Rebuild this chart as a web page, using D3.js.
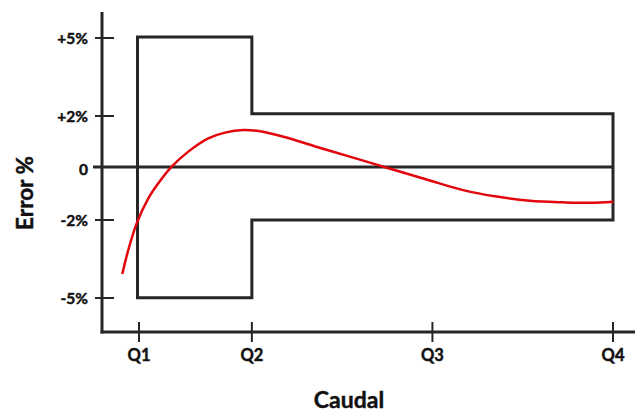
<!DOCTYPE html>
<html>
<head>
<meta charset="utf-8">
<script src="https://cdn.jsdelivr.net/npm/d3@7"></script>
<style>
  html, body { margin: 0; padding: 0; background: #fff; }
  svg { display: block; font-family: Lato, "Open Sans", sans-serif; }
</style>
</head>
<body>
<svg id="chart" width="635" height="413"></svg>
<script>
// ---- data ----
const qLabels = ["Q1", "Q2", "Q3", "Q4"];
const qPositions = [0, 25, 65, 105];          // relative flow positions
const yTickValues = [5, 2, 0, -2, -5];
const yTickLabels = ["+5%", "+2%", "0", "-2%", "-5%"];
// tolerance envelope: x breakpoints, upper and lower limits (%)
const envX = [0, 25, 105];
const envUpper = [5.04, 2.09];
const envLower = [-4.99, -2.0];
// measured error curve
const curveX = [-3.7, -2.37, -0.51, 2.06, 4.28, 7.24, 10.92, 15.35, 19.05, 23.1, 26.8, 32.0, 40.0, 48.0, 54.9, 63.7, 71.8, 79.2, 86.6, 94.0, 99.9, 105.1];
const curveY = [-4.08, -3.15, -2.13, -1.17, -0.59, 0.05, 0.63, 1.14, 1.36, 1.46, 1.41, 1.20, 0.78, 0.37, 0.01, -0.44, -0.85, -1.10, -1.26, -1.32, -1.34, -1.30];

// ---- scales ----
const x = d3.scaleLinear().domain([0, 105]).range([139, 613]);
const y = d3.scaleLinear().domain([0, 5]).range([168, 38]);

const svg = d3.select("#chart");
const ink = "#262626";
const txt = "#111";

function label(sel) {
  return sel.attr("font-weight", 700).attr("fill", txt)
    .attr("stroke", txt).attr("stroke-width", 0.45).attr("paint-order", "stroke");
}

// axes lines
const axisX0 = 102, axisYBottom = 332, axisYTop = 12, axisXRight = 635;
svg.append("line").attr("x1", axisX0).attr("x2", axisX0)
  .attr("y1", axisYTop).attr("y2", axisYBottom + 1.5)
  .attr("stroke", ink).attr("stroke-width", 3);
svg.append("line").attr("x1", axisX0 - 1.5).attr("x2", axisXRight)
  .attr("y1", axisYBottom).attr("y2", axisYBottom)
  .attr("stroke", ink).attr("stroke-width", 3);

// y ticks
yTickValues.forEach((v, i) => {
  if (v !== 0) {
    svg.append("line").attr("x1", 95).attr("x2", 114)
      .attr("y1", y(v)).attr("y2", y(v))
      .attr("stroke", ink).attr("stroke-width", 2);
  }
  label(svg.append("text").attr("x", 88).attr("y", y(v) + (v === 0 ? 7 : 5.5))
    .attr("text-anchor", "end").attr("font-size", 15.5))
    .text(yTickLabels[i]);
});

// x ticks
qPositions.forEach((p, i) => {
  svg.append("line").attr("x1", x(p)).attr("x2", x(p))
    .attr("y1", 322).attr("y2", 342)
    .attr("stroke", ink).attr("stroke-width", 2);
  label(svg.append("text").attr("x", x(p)).attr("y", 361)
    .attr("text-anchor", "middle").attr("font-size", 16.5))
    .text(qLabels[i]);
});

// zero line
svg.append("line").attr("x1", 93).attr("x2", 612)
  .attr("y1", y(0) - 1).attr("y2", y(0) - 1)
  .attr("stroke", ink).attr("stroke-width", 3);

// tolerance envelope
const envPts = [
  [envX[0], envUpper[0]], [envX[1], envUpper[0]], [envX[1], envUpper[1]], [envX[2], envUpper[1]],
  [envX[2], envLower[1]], [envX[1], envLower[1]], [envX[1], envLower[0]], [envX[0], envLower[0]]
];
svg.append("path")
  .attr("d", d3.line().x(d => x(d[0]) - (d[0] === 0 ? 1.5 : 0)).y(d => y(d[1]))(envPts) + "Z")
  .attr("fill", "none").attr("stroke", ink).attr("stroke-width", 3)
  .attr("stroke-linejoin", "miter");

// error curve
const curvePts = curveX.map((v, i) => [v, curveY[i]]);
svg.append("path")
  .attr("d", d3.line().x(d => x(d[0])).y(d => y(d[1])).curve(d3.curveCatmullRom.alpha(0.5))(curvePts))
  .attr("fill", "none").attr("stroke", "#e3050c").attr("stroke-width", 2.5);

// axis titles
label(svg.append("text").attr("transform", "translate(33,193) rotate(-90)")
  .attr("text-anchor", "middle").attr("font-size", 22.5))
  .text("Error %");
label(svg.append("text").attr("x", 349).attr("y", 408)
  .attr("text-anchor", "middle").attr("font-size", 23))
  .text("Caudal");
</script>
</body>
</html>
